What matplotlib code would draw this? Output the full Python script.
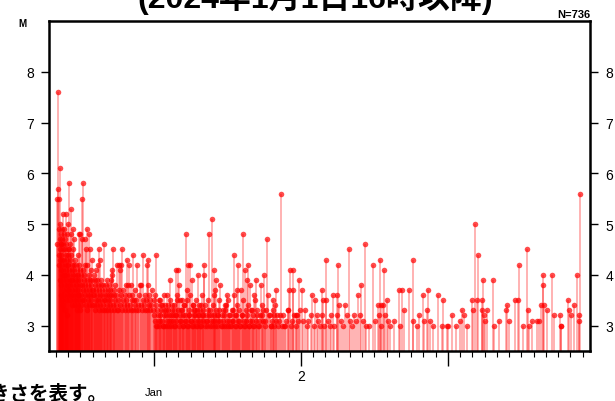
import numpy as np
import matplotlib
matplotlib.use("Agg")
import matplotlib.pyplot as plt
from matplotlib.ticker import MultipleLocator
import matplotlib.transforms as mtransforms

# event times: minutes after 2024-01-01 16:00 JST, magnitudes
t_16h = [6, 7, 10, 12, 14, 15, 16, 17, 18, 19, 20, 20, 21, 22, 23, 23, 24, 25, 26, 26,
         27, 28, 29, 30, 30, 31, 32, 33, 34, 34, 35, 36, 36, 37, 38, 39, 40, 40, 41, 42,
         43, 44, 45, 45, 46, 47, 48, 49, 49, 50, 51, 52, 53, 54, 55, 55, 56, 57, 58, 59,
         60, 60]
m_16h = [5.5, 4.6, 7.6, 5.7, 4.4, 5.5, 4.9, 4.2, 6.1, 4.7, 4.5, 3.9, 5.0, 4.3, 4.8, 3.6, 4.6, 4.1, 4.6, 3.8,
         4.4, 4.0, 4.9, 4.2, 3.5, 4.7, 4.3, 3.9, 4.5, 3.7, 4.1, 5.2, 3.4, 4.6, 4.0, 4.8, 4.3, 3.6, 4.9, 4.2,
         3.8, 4.5, 4.7, 3.3, 4.0, 4.4, 3.9, 5.2, 3.5, 4.6, 4.1, 4.3, 3.7, 4.8, 4.2, 3.2, 4.0, 4.5, 3.8, 4.4,
         5.0, 3.6]

t_17h = [61, 62, 63, 64, 65, 66, 67, 68, 69, 70, 71, 72, 73, 74, 75, 76, 77, 78, 79, 80,
         81, 82, 83, 84, 85, 86, 87, 88, 89, 90, 91, 92, 93, 94, 95, 96, 97, 98, 99, 100,
         101, 102, 103, 104, 105, 106, 107, 108, 109, 110, 111, 112, 113, 114, 115, 116, 117, 118, 119, 120]
m_17h = [4.2, 3.7, 4.5, 5.8, 3.9, 4.1, 3.5, 4.6, 3.8, 4.3, 4.0, 4.8, 5.3, 3.6, 4.4, 3.9, 4.1, 3.4, 4.2, 3.7,
         3.9, 4.5, 3.6, 4.0, 4.9, 3.8, 4.2, 4.7, 3.5, 4.1, 3.7, 3.9, 4.3, 3.4, 4.0, 3.8, 4.2, 3.6, 3.9, 3.5,
         4.0, 3.7, 4.1, 3.3, 3.8, 4.4, 3.6, 3.9, 3.4, 4.0, 3.7, 3.5, 4.2, 4.8, 3.6, 3.9, 3.3, 4.8, 3.8, 4.1]

t_18h = [121, 123, 124, 126, 127, 128, 129, 131, 132, 134, 135, 137, 138, 140, 141, 142, 144, 145, 147, 148,
         150, 151, 152, 154, 155, 157, 158, 160, 161, 163, 164, 166, 167, 169, 170, 172, 173, 175, 176, 178,
         179, 180]
m_18h = [3.6, 4.0, 3.4, 3.8, 3.5, 5.5, 4.7, 5.8, 3.7, 4.1, 3.9, 3.5, 4.0, 3.6, 3.8, 4.7, 4.2, 3.4, 4.5, 3.7,
         3.9, 3.3, 4.2, 4.9, 3.6, 3.8, 3.5, 4.0, 3.7, 4.8, 3.4, 3.9, 4.5, 3.6, 3.8, 3.5, 4.1, 4.3, 3.4, 3.7,
         3.9, 3.6]

t_19h = [182, 184, 185, 187, 189, 190, 192, 194, 195, 197, 199, 200, 202, 204, 206, 207, 209, 211, 212, 214,
         215, 217, 219, 221, 222, 224, 226, 228, 229, 231, 233, 234, 236, 238, 240]
m_19h = [3.7, 3.4, 4.0, 3.6, 3.9, 3.3, 3.8, 3.5, 4.1, 3.7, 3.4, 3.9, 3.6, 3.8, 3.5, 4.2, 3.3, 3.7, 4.5, 3.6,
         4.3, 3.4, 3.8, 3.5, 3.9, 3.3, 3.7, 3.6, 3.8, 3.4, 3.5, 4.6, 3.3, 3.7, 3.6]

t_20h = [242, 244, 246, 248, 250, 251, 253, 255, 257, 259, 261, 263, 264, 266, 268, 270, 272, 274, 276, 278,
         280, 282, 284, 286, 288, 290, 292, 294, 297, 299]
m_20h = [3.5, 3.8, 3.3, 3.6, 3.4, 3.9, 3.5, 3.7, 3.3, 3.6, 3.8, 3.4, 3.5, 3.7, 3.3, 3.6, 3.9, 4.1, 4.0, 4.5,
         3.4, 3.6, 3.3, 3.7, 3.5, 3.8, 3.4, 3.6, 4.2, 3.3]

t_21h = [302, 305, 307, 310, 312, 315, 318, 320, 323, 325, 328, 330, 333, 336, 338, 341, 344, 346, 349, 351,
         354, 356, 359]
m_21h = [3.5, 3.3, 3.7, 4.2, 4.1, 3.4, 4.2, 3.6, 4.5, 3.3, 3.5, 3.7, 3.4, 3.6, 3.3, 3.5, 3.8, 3.4, 4.3, 3.8,
         3.3, 3.6, 4.2]

t_22h = [363, 366, 369, 372, 374, 376, 379, 382, 385, 388, 391, 394, 398, 401, 404, 408, 412, 415, 418]
m_22h = [3.4, 3.3, 3.8, 3.5, 3.6, 4.4, 3.3, 3.5, 3.4, 3.7, 3.3, 3.5, 4.2, 3.4, 3.3, 3.6, 3.8, 3.4, 3.8]

t_23h = [423, 426, 428, 431, 434, 437, 441, 444, 447, 450, 452, 455, 457, 460, 463, 467, 470, 474, 478]
m_23h = [3.3, 3.5, 4.4, 3.4, 3.3, 3.6, 3.5, 4.2, 3.3, 3.8, 4.3, 3.4, 3.6, 3.3, 3.5, 3.4, 3.7, 3.3, 3.5]

t_jan2_am = [481, 485, 488, 492, 495, 499, 503, 506, 510, 514, 518, 521, 525, 529, 534, 538, 542, 546, 550, 554,
             558, 562, 566, 570, 574, 578, 582, 586, 590, 594, 599, 604, 608, 612, 616, 620, 624, 628, 632, 637,
             640, 644, 648, 652, 656, 660, 665, 669, 673, 677, 681, 685, 690, 694, 698, 702, 706, 710, 714, 718,
             722, 726, 727, 731, 736, 741, 746, 751, 756, 761, 766, 770, 774, 775, 779, 784, 789, 794, 798, 803,
             808, 813, 818, 823, 828, 833, 836, 841, 846, 852, 857, 862, 867, 873, 878, 883, 888, 893, 898, 902,
             906, 911, 916, 921, 926, 931, 937, 939, 944, 950, 955, 960, 966, 971, 978, 984, 990, 997, 1004, 1010,
             1017]
m_jan2_am = [3.2, 3.6, 3.0, 4.4, 3.3, 3.1, 3.5, 3.0, 3.2, 3.4, 3.4, 3.1, 3.0, 3.3, 3.4, 3.2, 3.6, 3.0, 3.3, 3.1,
             3.9, 3.2, 3.0, 3.4, 3.1, 3.3, 3.0, 4.1, 3.2, 3.5, 4.1, 3.8, 3.1, 3.3, 3.5, 3.0, 3.2, 3.4, 3.1, 4.8,
             3.7, 3.0, 4.2, 3.2, 4.2, 3.1, 3.9, 3.4, 3.0, 3.3, 3.2, 3.0, 3.3, 4.0, 3.1, 3.2, 3.0, 3.4, 3.2, 3.1,
             3.3, 4.2, 4.0, 3.0, 3.2, 3.1, 3.3, 4.8, 3.0, 3.2, 5.1, 3.1, 4.1, 3.6, 3.0, 3.9, 3.2, 3.1, 3.3, 3.8,
             3.0, 3.2, 3.1, 3.0, 3.3, 3.4, 3.6, 3.0, 3.1, 3.2, 3.0, 3.1, 3.3, 4.4, 3.0, 3.2, 3.7, 4.2, 3.1, 3.0,
             3.7, 3.2, 4.8, 3.0, 4.1, 3.1, 3.9, 4.2, 3.0, 3.8, 3.3, 3.1, 3.0, 3.6, 3.9, 3.2, 3.0, 3.1, 3.8, 3.2,
             4.0]

# smaller shocks packed along the bottom on Jan 2
t_jan2_small = [483, 490, 497, 501, 508, 512, 516, 523, 527, 531, 536, 540, 544, 548, 552, 556, 560, 564, 568, 572,
                576, 580, 584, 588, 592, 596, 601, 606, 610, 614, 618, 622, 626, 630, 635, 642, 646, 650, 654, 658,
                662, 667, 671, 675, 679, 683, 688, 692, 696, 700, 704, 708, 712, 716, 720, 729, 733, 738, 743, 748,
                753, 758, 763, 768, 772, 777, 781, 786, 791, 796, 800, 806, 811, 816, 821, 826, 831, 839, 844, 849,
                855, 860, 865, 870, 876, 881, 886, 891, 896, 900, 909, 914, 919, 924, 929, 934, 942, 947, 953, 958,
                963, 969, 975, 981, 987, 994, 1001, 1007, 1015, 1022, 1030, 1048, 1055, 1073, 1080, 1098, 1117, 1139,
                1156, 1178]
m_jan2_small = [3.1, 3.4, 3.0, 3.2, 3.5, 3.1, 3.3, 3.0, 3.2, 3.6, 3.0, 3.3, 3.1, 3.4, 3.2, 3.0, 3.5, 3.1, 3.3, 3.2,
                3.0, 3.4, 3.2, 3.1, 3.6, 3.3, 3.0, 3.2, 3.5, 3.1, 3.3, 3.0, 3.4, 3.2, 3.1, 3.5, 3.0, 3.3, 3.2, 3.6,
                3.1, 3.0, 3.4, 3.2, 3.3, 3.1, 3.5, 3.0, 3.2, 3.4, 3.1, 3.3, 3.0, 3.6, 3.2, 3.4, 3.1, 3.0, 3.5, 3.2,
                3.3, 3.1, 3.0, 3.4, 3.2, 3.7, 3.1, 3.3, 3.0, 3.2, 3.5, 3.1, 3.0, 3.3, 3.2, 3.4, 3.0, 3.1, 3.5, 3.2,
                3.0, 3.3, 3.1, 3.6, 3.2, 3.0, 3.4, 3.1, 3.3, 3.0, 3.2, 3.5, 3.1, 3.0, 3.3, 3.2, 3.4, 3.0, 3.1, 3.3,
                3.2, 3.0, 3.5, 3.1, 3.3, 3.0, 3.2, 3.4, 3.1, 3.0, 3.3, 3.2, 3.0, 3.4, 3.1, 3.2, 3.0, 3.3,
                3.1, 3.2]

t_jan2_noon = [1012, 1026, 1035, 1038, 1044, 1052, 1058, 1061, 1063, 1066, 1070, 1076, 1083, 1089, 1094, 1101,
               1107, 1113, 1121, 1128, 1135, 1143, 1146, 1151, 1159, 1160, 1167, 1174, 1182, 1187, 1192, 1197]
m_jan2_noon = [3.3, 3.1, 4.7, 3.6, 3.2, 3.0, 3.1, 3.5, 3.3, 3.2, 3.0, 3.7, 3.2, 3.0, 3.1, 5.6,
               3.0, 3.2, 3.0, 3.1, 3.3, 3.7, 4.1, 3.0, 4.1, 3.7, 3.2, 3.0, 3.2, 3.1, 3.9, 3.3]

t_jan2_pm = [1203, 1212, 1220, 1228, 1236, 1247, 1255, 1262, 1269, 1277, 1285, 1293, 1301, 1303, 1309, 1315,
             1322, 1324, 1331, 1340, 1348, 1355, 1364, 1375, 1378, 1381, 1388, 1396, 1404, 1416, 1424, 1437,
             1440, 1448, 1458, 1470, 1481, 1488, 1494, 1503, 1512, 1518]
m_jan2_pm = [3.7, 3.1, 3.3, 3.0, 3.1, 3.2, 3.6, 3.0, 3.5, 3.2, 3.1, 3.0, 3.7, 3.2, 3.5, 3.0,
             4.3, 3.5, 3.1, 3.0, 3.2, 3.6, 3.0, 3.6, 3.2, 4.2, 3.4, 3.1, 3.0, 3.4, 3.2, 4.5,
             3.1, 3.0, 3.2, 3.1, 3.6, 3.2, 3.8, 3.1, 4.6, 3.0]

t_jan2_night = [1535, 1554, 1562, 1579, 1584, 1587, 1590, 1592, 1603, 1608, 1611, 1620, 1628, 1636, 1655, 1681,
                1685, 1696, 1706, 1731, 1747, 1750, 1770, 1780, 1799, 1804, 1816, 1824, 1832, 1848, 1872, 1892,
                1897, 1914]
m_jan2_night = [3.0, 4.2, 3.1, 3.4, 3.2, 4.3, 3.0, 3.4, 3.4, 4.1, 3.2, 3.5, 3.1, 3.0, 3.1, 3.7,
                3.0, 3.7, 3.3, 3.7, 3.1, 4.3, 3.0, 3.2, 3.6, 3.1, 3.3, 3.7, 3.1, 3.0, 3.6, 3.0,
                3.5, 3.0]

t_jan3 = [1922, 1941, 1958, 1979, 1987, 1998, 2015, 2036, 2044, 2052, 2064, 2068, 2085, 2088, 2090, 2096,
          2101, 2113, 2139, 2145, 2170, 2204, 2210, 2220, 2248, 2264, 2269, 2290, 2305, 2313, 2317, 2330,
          2354, 2367, 2374, 2384, 2386, 2390, 2403, 2429, 2439, 2469, 2472, 2475, 2509, 2514, 2522, 2537,
          2550, 2563, 2564, 2566]
m_jan3 = [3.0, 3.2, 3.0, 3.1, 3.3, 3.2, 3.0, 3.5, 3.3, 5.0, 3.5, 4.4, 3.5, 3.3, 3.9, 3.2,
          3.1, 3.3, 3.9, 3.0, 3.1, 3.3, 3.4, 3.1, 3.5, 3.5, 4.2, 3.0, 4.5, 3.3, 3.0, 3.1,
          3.1, 3.1, 3.4, 4.0, 3.8, 3.4, 3.3, 4.0, 3.2, 3.2, 3.0, 3.0, 3.5, 3.3, 3.2, 3.4,
          4.0, 3.2, 3.1, 5.6]

n_total = 736
y_ticks = [3, 4, 5, 6, 7, 8]
title = "(2024年1月1日16時以降)"
note = "縦棒の長さは地震の大きさを表す。"

times = np.concatenate([t_16h, t_17h, t_18h, t_19h, t_20h, t_21h, t_22h, t_23h,
                        t_jan2_am, t_jan2_small, t_jan2_noon, t_jan2_pm, t_jan2_night, t_jan3])
mags = np.concatenate([m_16h, m_17h, m_18h, m_19h, m_20h, m_21h, m_22h, m_23h,
                       m_jan2_am, m_jan2_small, m_jan2_noon, m_jan2_pm, m_jan2_night, m_jan3])

plt.rcParams['font.family'] = ['Liberation Sans', 'Noto Sans CJK JP']

fig = plt.figure(figsize=(6.15, 4.02), dpi=100)
ax = fig.add_axes([49 / 615, 50 / 402, 541 / 615, 330 / 402])

# stems + circles
ax.vlines(times, 2.5, mags, color='red', alpha=0.3, lw=1.4)
ax.plot(times, mags, 'o', color='red', ms=4, alpha=0.7, mew=0)

ax.set_xlim(-34, 2616)
ax.set_ylim(2.5, 9.0)

for s in ax.spines.values():
    s.set_linewidth(1.8)

ax.set_yticks(y_ticks)
ax.tick_params(axis='y', left=True, right=True, labelleft=True, labelright=True,
               direction='out', length=6, width=1.0, labelsize=10, pad=5)

# major ticks every 12 h, minor every hour
ax.set_xticks([480, 1200, 1920])
ax.set_xticklabels(['', '2', ''])
ax.xaxis.set_minor_locator(MultipleLocator(60))
ax.tick_params(axis='x', which='major', direction='out', length=11, width=1.0,
               labelsize=10, pad=2)
ax.tick_params(axis='x', which='minor', direction='out', length=4, width=0.8)

trans = mtransforms.blended_transform_factory(ax.transData, ax.transAxes)
ax.text(480, -0.125, 'Jan', transform=trans, ha='center', va='center', fontsize=8)

fig.text(22 / 615, 1 - 24 / 402, 'M', ha='center', va='center', fontsize=7, fontweight='bold')
fig.text(590 / 615, 1 - 15 / 402, f'N={n_total}', ha='right', va='center', fontsize=8, fontweight='bold')
fig.text(315 / 615, 1 + 2 / 402, title, ha='center', va='center', fontsize=23, fontweight='bold')
fig.text(108 / 615, 1 - 394 / 402, note, ha='right', va='center', fontsize=14, fontweight='bold')

fig.savefig('out.png', dpi=100)
